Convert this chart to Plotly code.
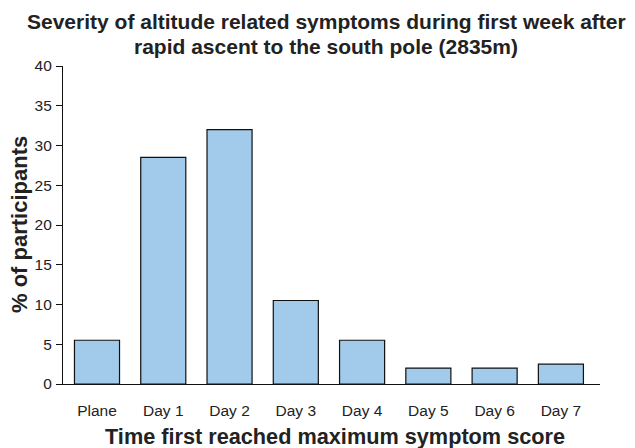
import plotly.graph_objects as go

categories = ["Plane", "Day 1", "Day 2", "Day 3", "Day 4", "Day 5", "Day 6", "Day 7"]
percent = [5.5, 28.5, 32, 10.5, 5.5, 2, 2, 2.5]
y_ticks = [0, 5, 10, 15, 20, 25, 30, 35, 40]

title_lines = ["Severity of altitude related symptoms during first week after",
               "rapid ascent to the south pole (2835m)"]

fig = go.Figure(go.Bar(
    x=categories, y=percent,
    marker=dict(color="#A2CAEA", line=dict(color="#111111", width=1.2)),
))

FONT = "Arial, Liberation Sans, sans-serif"
fig.update_layout(
    width=635, height=448,
    margin=dict(l=55, r=43, t=58, b=72, autoexpand=False),
    plot_bgcolor="white", paper_bgcolor="white",
    bargap=0.32,
    showlegend=False,
    font=dict(family=FONT, color="#222222", size=15),
    annotations=[
        dict(text="<b>%s</b>" % title_lines[0], xref="paper", yref="paper", x=0.49, y=1.0,
             yshift=45, xanchor="center", yanchor="middle", showarrow=False,
             font=dict(size=21, color="#222222")),
        dict(text="<b>%s</b>" % title_lines[1], xref="paper", yref="paper", x=0.49, y=1.0,
             yshift=19.5, xanchor="center", yanchor="middle", showarrow=False,
             font=dict(size=21, color="#222222")),
        dict(text="<b>Time first reached maximum symptom score</b>", xref="paper", yref="paper",
             x=0.507, y=0, yshift=-52, xanchor="center", yanchor="middle", showarrow=False,
             font=dict(size=21.7, color="#222222")),
        dict(text="<b>% of participants</b>", xref="paper", yref="paper", x=0, y=0.5,
             xshift=-44, xanchor="center", yanchor="middle", textangle=-90, showarrow=False,
             font=dict(size=22, color="#222222")),
    ],
)
fig.update_xaxes(
    range=[-0.513, 7.59], showline=True, linecolor="#111111", linewidth=1.2,
    ticks="", ticklabelstandoff=12, showgrid=False, automargin=False,
    tickfont=dict(size=15.5),
)
fig.update_yaxes(
    range=[0, 40], tickvals=y_ticks, showline=True, linecolor="#111111", linewidth=1.2,
    ticks="outside", ticklen=6, tickcolor="#111111", showgrid=False, zeroline=False, automargin=False,
    tickfont=dict(size=15.5), ticklabelstandoff=1,
)
fig.write_html("out.html")
